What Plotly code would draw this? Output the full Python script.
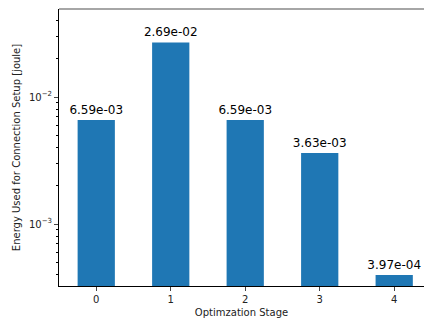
import plotly.graph_objects as go
import math

stages = [0, 1, 2, 3, 4]
energy = [6.59e-03, 2.69e-02, 6.59e-03, 3.63e-03, 3.97e-04]
labels = ["6.59e-03", "2.69e-02", "6.59e-03", "3.63e-03", "3.97e-04"]
ytick_vals = [1e-3, 1e-2]
ytick_text = ["10<sup>−3</sup>", "10<sup>−2</sup>"]
minor_vals = [k * 10 ** e for e in (-4, -3, -2) for k in range(2, 10)]

fig = go.Figure(go.Bar(
    x=stages, y=energy, width=0.5,
    marker=dict(color="#1f77b4", line=dict(width=0)),
    text=labels, textposition="outside", cliponaxis=False, constraintext="none",
    textfont=dict(family="DejaVu Sans", size=12, color="black"),
))

fig.update_layout(
    width=425, height=323,
    margin=dict(l=59, r=1, t=9, b=37, autoexpand=False),
    plot_bgcolor="white", paper_bgcolor="white",
    font=dict(family="DejaVu Sans", size=10, color="#222"),
    showlegend=False,
    shapes=[dict(type="line", xref="paper", yref="paper", x0=0, x1=1, y0=1, y1=1,
                 line=dict(color="#888", width=1.5))],
)
fig.update_xaxes(
    range=[-0.5, 4.4], tickvals=stages, ticks="outside", ticklen=4, automargin=False,
    showline=True, linecolor="black", linewidth=1, showgrid=False, zeroline=False,
    title=dict(text="Optimzation Stage", font=dict(size=10), standoff=4),
    tickfont=dict(size=10),
)
fig.update_yaxes(
    type="log", range=[math.log10(3.25e-4), math.log10(0.0493)], automargin=False,
    tickvals=ytick_vals, ticktext=ytick_text, ticks="outside", ticklen=4,
    showline=True, linecolor="black", linewidth=1, showgrid=False, zeroline=False,
    minor=dict(tickvals=minor_vals, ticks="outside", ticklen=2, tickcolor="black", showgrid=False),
    title=dict(text="Energy Used for Connection Setup [joule]", font=dict(size=10), standoff=6),
    tickfont=dict(size=10),
)

fig.write_html("out.html", config={"displayModeBar": False},
               post_script="document.body.style.margin='0';document.body.style.padding='0';")
